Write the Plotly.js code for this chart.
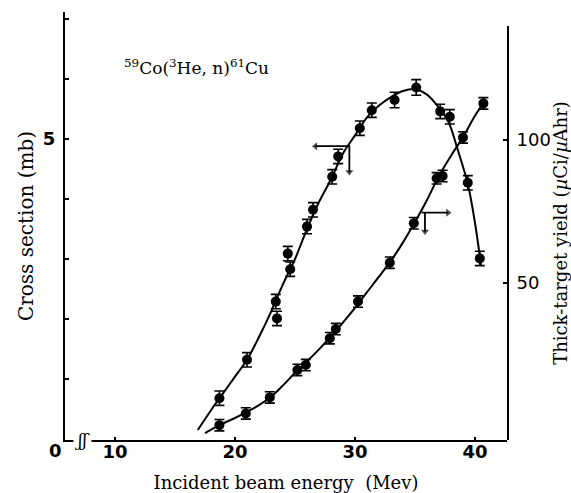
<!DOCTYPE html>
<html>
<head>
<meta charset="utf-8">
<script src="https://cdn.plot.ly/plotly-3.0.1.min.js"></script>
<style>html,body{margin:0;padding:0;background:#fff;}#chart{width:571px;height:493px;}</style>
</head>
<body>
<div id="chart"></div>
<script>
// Cross section data (mb), left axis
const csEnergy = [18.7, 21.0, 23.4, 23.5, 24.4, 24.6, 26.0, 26.5, 28.1, 28.6, 30.4, 31.4, 33.3, 35.1, 37.1, 37.9, 39.4, 40.4];
const csValue  = [0.68, 1.32, 2.29, 2.01, 3.09, 2.83, 3.54, 3.82, 4.37, 4.71, 5.18, 5.48, 5.65, 5.86, 5.46, 5.37, 4.27, 3.01];
const csError  = [0.12, 0.12, 0.12, 0.12, 0.12, 0.12, 0.12, 0.12, 0.12, 0.12, 0.12, 0.12, 0.13, 0.13, 0.12, 0.12, 0.12, 0.12];
// Smooth fitted cross-section curve
const csCurveE = [16.9, 18.0, 19.0, 20.0, 21.0, 22.0, 23.0, 24.0, 25.0, 26.0, 27.0, 28.0, 29.0, 30.0, 31.0, 32.0, 33.0, 34.0, 35.0, 36.0, 37.0, 37.8, 38.5, 39.4, 40.0, 40.5];
const csCurveV = [0.15, 0.48, 0.76, 1.04, 1.32, 1.70, 2.12, 2.58, 3.00, 3.50, 3.95, 4.33, 4.76, 5.06, 5.36, 5.56, 5.70, 5.80, 5.83, 5.74, 5.52, 5.28, 4.86, 4.25, 3.60, 2.90];

// Thick-target yield data (uCi/uAhr), right axis
const yEnergy = [18.7, 20.9, 22.9, 25.2, 25.9, 27.9, 28.4, 30.25, 32.9, 34.9, 36.8, 37.3, 39.0, 40.7];
const yValue  = [0.3, 4.4, 10.0, 19.6, 21.3, 30.7, 33.9, 43.5, 57.1, 70.9, 86.6, 87.4, 100.9, 112.8];
const yError  = [2.0, 2.0, 2.0, 2.0, 2.0, 2.0, 2.0, 2.0, 2.0, 2.0, 2.0, 2.0, 2.0, 2.0];
// Smooth fitted yield curve
const yCurveE = [17.5, 18.7, 20.0, 21.0, 22.0, 23.0, 24.0, 25.0, 26.0, 27.0, 28.0, 29.0, 30.0, 31.0, 32.0, 33.0, 34.0, 35.0, 36.0, 37.0, 38.0, 39.0, 40.0, 40.7];
const yCurveV = [-2.5, 0.3, 2.8, 4.9, 7.3, 10.2, 14.2, 18.6, 22.6, 26.8, 31.3, 36.2, 41.3, 46.8, 52.2, 57.8, 64.2, 71.3, 79.0, 87.5, 94.5, 101.0, 108.5, 112.8];

// Axis-indicator arrows (left one points to the cross-section axis, right one to the yield axis)
const csArrowE = [26.7, 29.53, 29.53];
const csArrowV = [4.88, 4.88, 4.45];
const yArrowE  = [37.75, 35.56, 35.83, 35.83];
const yArrowV  = [74.6, 74.6, 74.6, 68.0];

// Tick labels
const xTicks = [10, 20, 30, 40];
const yTicks = [5];
const yTickText = ['5'];
const y2Ticks = [50, 100];
const y2TickText = ['50', '100'];

const serif = 'DejaVu Serif, serif';
const sans = 'DejaVu Sans, sans-serif';

function arrowTraces(xs, ys, yaxis) {
  const out = [];
  out.push({x: xs, y: ys, type: 'scatter', mode: 'lines', line: {color: '#000', width: 1.8}, xaxis: 'x', yaxis: yaxis, hoverinfo: 'skip'});
  out.push({x: [xs[1], xs[0]], y: [ys[1], ys[0]], type: 'scatter', mode: 'markers', xaxis: 'x', yaxis: yaxis, hoverinfo: 'skip',
            marker: {symbol: 'triangle-up', size: [0, 7], color: '#000', angleref: 'previous', line: {width: 0}}});
  const n = xs.length;
  out.push({x: [xs[n - 2], xs[n - 1]], y: [ys[n - 2], ys[n - 1]], type: 'scatter', mode: 'markers', xaxis: 'x', yaxis: yaxis, hoverinfo: 'skip',
            marker: {symbol: 'triangle-up', size: [0, 7], color: '#000', angleref: 'previous', line: {width: 0}}});
  return out;
}

const traces = [
  {x: csCurveE, y: csCurveV, type: 'scatter', mode: 'lines', line: {color: '#000', width: 2, shape: 'spline', smoothing: 1}, xaxis: 'x', yaxis: 'y', hoverinfo: 'skip'},
  {x: csEnergy, y: csValue, type: 'scatter', mode: 'markers', marker: {color: '#000', size: 10},
   error_y: {type: 'data', array: csError, visible: true, color: '#000', thickness: 1.6, width: 5}, xaxis: 'x', yaxis: 'y'},
  {x: yCurveE, y: yCurveV, type: 'scatter', mode: 'lines', line: {color: '#000', width: 2, shape: 'spline', smoothing: 1}, xaxis: 'x', yaxis: 'y2', hoverinfo: 'skip'},
  {x: yEnergy, y: yValue, type: 'scatter', mode: 'markers', marker: {color: '#000', size: 10},
   error_y: {type: 'data', array: yError, visible: true, color: '#000', thickness: 1.6, width: 5}, xaxis: 'x', yaxis: 'y2'}
].concat(arrowTraces(csArrowE, csArrowV, 'y'), arrowTraces(yArrowE, yArrowV, 'y2'));

const layout = {
  width: 571, height: 493,
  margin: {l: 65, r: 64, t: 12, b: 53, pad: 0},
  paper_bgcolor: '#fff', plot_bgcolor: 'rgba(0,0,0,0)',
  showlegend: false,
  xaxis: {
    range: [5.833, 42.667], showgrid: false, zeroline: false,
    showline: true, linecolor: '#000', linewidth: 2,
    tickmode: 'array', tickvals: xTicks, ticks: 'inside', ticklen: 3, tickwidth: 2, tickcolor: '#000',
    tickfont: {family: sans, size: 18, color: '#000', weight: 'bold'}, ticklabelstandoff: -6,
    title: {text: 'Incident beam energy  (Mev)', font: {family: serif, size: 18, color: '#000'}, standoff: 16}
  },
  yaxis: {
    range: [-0.0167, 7.117], domain: [0, 1], showgrid: false, zeroline: false,
    showline: true, linecolor: '#000', linewidth: 2,
    tickmode: 'array', tickvals: yTicks, ticktext: yTickText, ticks: 'inside', ticklen: 4, tickwidth: 1.5, tickcolor: '#000',
    minor: {tick0: 0, dtick: 1, ticks: 'inside', ticklen: 4, tickwidth: 1.5, tickcolor: '#000'},
    tickfont: {family: sans, size: 18, color: '#000', weight: 'bold'}, ticklabelstandoff: 4,
    title: {text: 'Cross section (mb)', font: {family: serif, size: 20, color: '#000'}, standoff: 4}
  },
  yaxis2: {
    range: [-4.895, 139.86], domain: [0, 0.9673], anchor: 'x', side: 'right',
    showgrid: false, zeroline: false,
    showline: true, linecolor: '#000', linewidth: 2,
    tickmode: 'array', tickvals: y2Ticks, ticktext: y2TickText, ticks: 'inside', ticklen: 4, tickwidth: 1.5, tickcolor: '#000',
    tickfont: {family: sans, size: 18, color: '#000'}, ticklabelstandoff: 4,
    title: {text: 'Thick-target yield (<i>µ</i>Ci/<i>µ</i>Ahr)', font: {family: serif, size: 18, color: '#000'}, standoff: 10}
  },
  annotations: [
    {xref: 'paper', yref: 'paper', x: 0.2986, y: 0.8715, xanchor: 'center', yanchor: 'middle', showarrow: false,
     text: '<sup>59</sup>Co(<sup>3</sup>He, n)<sup>61</sup>Cu', font: {family: serif, size: 17, color: '#000'}},
    {xref: 'paper', yref: 'paper', x: -0.0204, y: -0.0234, xanchor: 'center', yanchor: 'middle', showarrow: false,
     text: '0', font: {family: sans, size: 18, color: '#000', weight: 'bold'}},
    {xref: 'x', yref: 'paper', x: 7.33, y: 0, xanchor: 'center', yanchor: 'middle', showarrow: false,
     text: '<i>ʃʃ</i>', bgcolor: '#fff', borderpad: 0, font: {family: serif, size: 17, color: '#000'}}
  ]
};

Plotly.newPlot('chart', traces, layout, {staticPlot: true, displayModeBar: false});
</script>
</body>
</html>
